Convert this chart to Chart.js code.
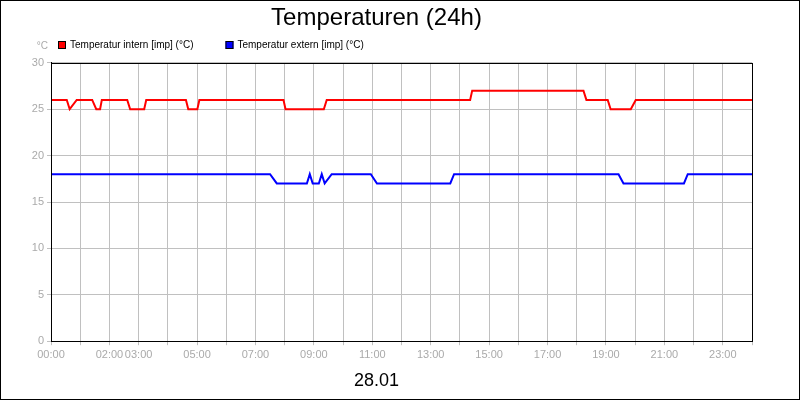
<!DOCTYPE html>
<html><head><meta charset="utf-8">
<script src="https://cdn.jsdelivr.net/npm/chart.js@4"></script>
<style>html,body{margin:0;padding:0;background:#fff}#w{width:798px;height:398px;border:1px solid #000;position:relative}</style>
</head><body><div id="w"><canvas id="c" width="798" height="398"></canvas></div>
<script>
const redHours = [0,0.54,0.64,0.88,1.41,1.55,1.68,1.74,2.61,2.71,3.19,3.26,4.62,4.70,5.01,5.08,7.96,8.03,9.34,9.44,14.35,14.42,18.23,18.33,19.06,19.16,19.85,20.02,24];
const redTemps = [26,26,25,26,26,25,25,26,26,25,25,26,26,25,25,26,26,25,25,26,26,27,27,26,26,25,25,26,26];
const blueHours = [0,7.50,7.73,8.76,8.86,8.96,9.17,9.27,9.37,9.61,10.95,11.16,13.67,13.80,19.43,19.60,21.67,21.80,24];
const blueTemps = [18,18,17,17,18,17,17,18,17,18,18,17,17,18,18,17,17,18,18];
const xTickLabels = {0:"00:00",2:"02:00",3:"03:00",5:"05:00",7:"07:00",9:"09:00",11:"11:00",13:"13:00",15:"15:00",17:"17:00",19:"19:00",21:"21:00",23:"23:00"};
const seriesNames = ["Temperatur intern [imp] (°C)","Temperatur extern [imp] (°C)"];
const F = "'Liberation Sans', Arial, sans-serif";
const frame = {id:'frame',afterDraw(ch){const a=ch.chartArea,c=ch.ctx;c.save();c.strokeStyle='#000';c.lineWidth=1;c.strokeRect(Math.round(a.left)+0.5,Math.round(a.top)+0.5,Math.round(a.width),Math.round(a.height));
c.fillStyle='#aaa';c.font='10px '+F;c.textAlign='right';c.textBaseline='alphabetic';c.fillText('°C',a.left-3,a.top-14);
let x=a.left+7;c.font='10px '+F;c.textAlign='left';c.textBaseline='middle';
ch.data.datasets.forEach(d=>{c.fillStyle=d.borderColor;c.fillRect(x,40,8,8);c.strokeStyle='#000';c.strokeRect(x+0.5,40.5,7,7);
 c.fillStyle='#000';c.fillText(d.label,x+12,44.5);x+=c.measureText(d.label).width+12+32;});
c.restore();}};
new Chart(document.getElementById('c'),{
 type:'line',
 data:{datasets:[
  {label:seriesNames[0],data:redHours.map((h,i)=>({x:h,y:redTemps[i]})),borderColor:'#ff0000',backgroundColor:'#ff0000',borderWidth:2,pointRadius:0,tension:0},
  {label:seriesNames[1],data:blueHours.map((h,i)=>({x:h,y:blueTemps[i]})),borderColor:'#0000ff',backgroundColor:'#0000ff',borderWidth:2,pointRadius:0,tension:0}]},
 options:{responsive:false,animation:false,
  layout:{padding:{left:0,right:47,top:0,bottom:0}},
  plugins:{
   title:{display:true,text:'Temperaturen (24h)',color:'#000',font:{family:F,size:24,weight:'normal'},padding:{top:3,bottom:30}},
   legend:{display:false},
   subtitle:{display:true,position:'bottom',text:'28.01',color:'#000',font:{family:F,size:18,weight:'normal'},padding:{top:6,bottom:7}},
   tooltip:{enabled:false}},
  scales:{
   x:{type:'linear',min:0,max:24,ticks:{stepSize:1,autoSkip:false,maxRotation:0,color:'#aaa',font:{family:F,size:11},callback:v=>xTickLabels[v]||''},
      grid:{color:'#c0c0c0',tickLength:4},border:{color:'#000'}},
   y:{min:0,max:30,afterFit(s){s.width=50;},ticks:{stepSize:5,color:'#aaa',font:{family:F,size:11}},grid:{color:'#c0c0c0',tickLength:4},border:{color:'#000'}}
  }},
 plugins:[frame]
});
</script></body></html>
